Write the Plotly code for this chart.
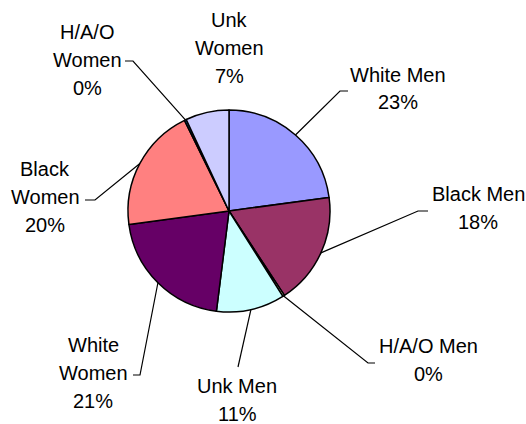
import math
import plotly.graph_objects as go

# ---- data ----
categories = ["White Men", "Black Men", "H/A/O Men", "Unk Men",
              "White Women", "Black Women", "H/A/O Women", "Unk Women"]
values = [23, 18, 0.3, 11, 21, 20, 0.3, 7]
colors = ["#9999FF", "#993366", "#FFFFCC", "#CCFFFF",
          "#660066", "#FF8080", "#0066CC", "#CCCCFF"]

# ---- layout (pixels) ----
W, H = 526, 424
CX, CY, R = 229, 211, 101
wrap = [False, False, False, False, True, True, True, True]
label_pos = [(398, 75), (478, 194), (428, 346), (237, 386),
             (93, 345), (45, 169), (87, 32), (229, 20)]
line_gap = [27, 28, 28, 28, 28, 28, 28, 28]
# leader: bend point, dash end (None = no leader)
leaders = [((340, 91), (348, 91)), ((418, 211), (428, 211)),
           ((368, 363), (375, 363)), ((238, 367), None),
           ((140, 375), (133, 375)), ((95, 200), (85, 200)),
           ((133, 61), (125, 61)), None]

FONT = dict(family="Liberation Sans, Arial, sans-serif", size=20, color="black")


def px(x):
    return x / W


def py(y):
    return 1 - y / H


fig = go.Figure(go.Pie(
    labels=categories, values=values, sort=False, direction="clockwise",
    rotation=0, textinfo="none", hoverinfo="label+percent",
    marker=dict(colors=colors, line=dict(color="black", width=1.5)),
    domain=dict(x=[px(CX - R), px(CX + R)], y=[py(CY + R), py(CY - R)]),
    showlegend=False,
))

total = sum(values)
cum = 0
annotations = []
shapes = []
for i, (cat, v) in enumerate(zip(categories, values)):
    mid = (cum + v / 2) / total * 360
    cum += v
    pct = f"{round(v / total * 100)}%"
    lines = (cat.split(" ") if wrap[i] else [cat]) + [pct]
    lx, ly = label_pos[i]
    for k, t in enumerate(lines):
        annotations.append(dict(x=px(lx), y=py(ly + k * line_gap[i]), xref="paper", yref="paper",
                                text=t, showarrow=False, xanchor="center", yanchor="middle",
                                font=FONT))
    if leaders[i] is not None:
        ex = CX + R * math.sin(math.radians(mid))
        ey = CY - R * math.cos(math.radians(mid))
        bend, dash = leaders[i]
        path = f"M {px(ex)},{py(ey)} L {px(bend[0])},{py(bend[1])}"
        if dash is not None:
            path += f" L {px(dash[0])},{py(dash[1])}"
        shapes.append(dict(type="path", path=path, xref="paper", yref="paper",
                           line=dict(color="black", width=1.2)))

fig.update_layout(width=W, height=H, margin=dict(l=0, r=0, t=0, b=0),
                  paper_bgcolor="white", plot_bgcolor="white",
                  annotations=annotations, shapes=shapes)
fig.write_html("out.html", post_script="document.body.style.margin='0px';",
               config={"displayModeBar": False})
